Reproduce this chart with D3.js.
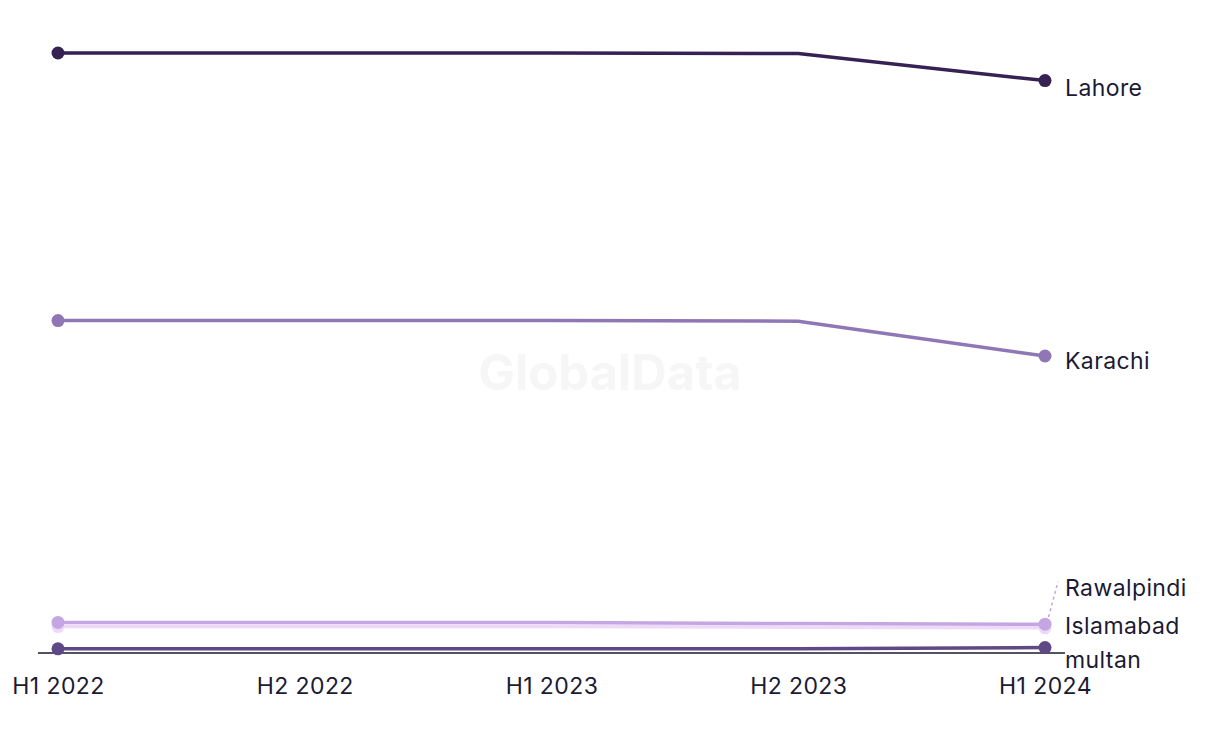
<!DOCTYPE html>
<html>
<head>
<meta charset="utf-8">
<script src="https://cdn.jsdelivr.net/npm/d3@7"></script>
<style>
  html, body { margin: 0; padding: 0; background: #ffffff; }
  svg { display: block; font-family: "Inter", "Noto Sans", sans-serif; }
</style>
</head>
<body>
<svg id="chart" width="1220" height="744"></svg>
<script>
const periods = ["H1 2022", "H2 2022", "H1 2023", "H2 2023", "H1 2024"];
const cities = ["Rawalpindi", "multan", "Islamabad", "Karachi", "Lahore"];
const lahore     = [100, 100, 100, 99.9, 95.4];
const karachi    = [55.4, 55.4, 55.4, 55.3, 49.5];
const islamabad  = [5.1, 5.1, 5.1, 4.9, 4.8];
const rawalpindi = [4.4, 4.4, 4.4, 4.3, 4.2];
const multan     = [0.7, 0.7, 0.7, 0.7, 0.9];
const colors = {
  Lahore: "#352253",
  Karachi: "#8f77b5",
  Islamabad: "#c4a6e2",
  Rawalpindi: "#eed9f8",
  multan: "#5f4886"
};
const seriesValues = {
  Lahore: lahore, Karachi: karachi, Islamabad: islamabad,
  Rawalpindi: rawalpindi, multan: multan
};
// label vertical offsets (px) to avoid overlap
const labelShift = { Lahore: 7, Karachi: 5, Islamabad: 2, Rawalpindi: -40, multan: 12 };

const svg = d3.select("#chart");

const x = d3.scalePoint().domain(periods).range([58, 1045]);
const y = d3.scaleLinear().domain([0, 100]).range([653, 53]);

// watermark
svg.append("text")
  .attr("x", 610).attr("y", 390)
  .attr("text-anchor", "middle")
  .attr("font-size", 49).attr("font-weight", 700)
  .attr("fill", "#f6f6f6")
  .text("GlobalData");

// baseline axis
svg.append("line")
  .attr("x1", 38).attr("x2", 1065)
  .attr("y1", y(0)).attr("y2", y(0))
  .attr("stroke", "#1b1a2e").attr("stroke-width", 1.5);

// x axis tick labels
const xAxis = d3.axisBottom(x).tickSize(0).tickPadding(0);
const gx = svg.append("g").attr("transform", `translate(0, 694)`).call(xAxis);
gx.select(".domain").remove();
gx.selectAll("text")
  .attr("dy", 0)
  .attr("font-size", 23)
  .attr("letter-spacing", "0.4px")
  .attr("font-family", "Inter, 'Noto Sans', sans-serif")
  .attr("fill", "#1c1a33");

const line = d3.line()
  .x((d, i) => x(periods[i]))
  .y(d => y(d));

cities.forEach(c => {
  const vals = seriesValues[c];
  svg.append("path")
    .datum(vals)
    .attr("d", line)
    .attr("fill", "none")
    .attr("stroke", colors[c])
    .attr("stroke-width", 3.5);
  [0, vals.length - 1].forEach(i => {
    svg.append("circle")
      .attr("cx", x(periods[i]))
      .attr("cy", y(vals[i]))
      .attr("r", 6.5)
      .attr("fill", colors[c]);
  });
});

// labels
const lastX = x(periods[periods.length - 1]);
cities.forEach(c => {
  const vals = seriesValues[c];
  const ly = y(vals[vals.length - 1]) + labelShift[c];
  if (c === "Rawalpindi") {
    svg.append("line")
      .attr("x1", lastX + 2).attr("y1", y(vals[vals.length - 1]) - 5)
      .attr("x2", lastX + 13).attr("y2", ly - 6)
      .attr("stroke", "#c4a6e2").attr("stroke-width", 1.5)
      .attr("stroke-dasharray", "3,3");
  }
  svg.append("text")
    .attr("x", lastX + 20)
    .attr("y", ly)
    .attr("dy", "0.35em")
    .attr("font-size", 23)
    .attr("letter-spacing", "0.4px")
    .attr("fill", "#1c1a33")
    .text(c);
});
</script>
</body>
</html>
